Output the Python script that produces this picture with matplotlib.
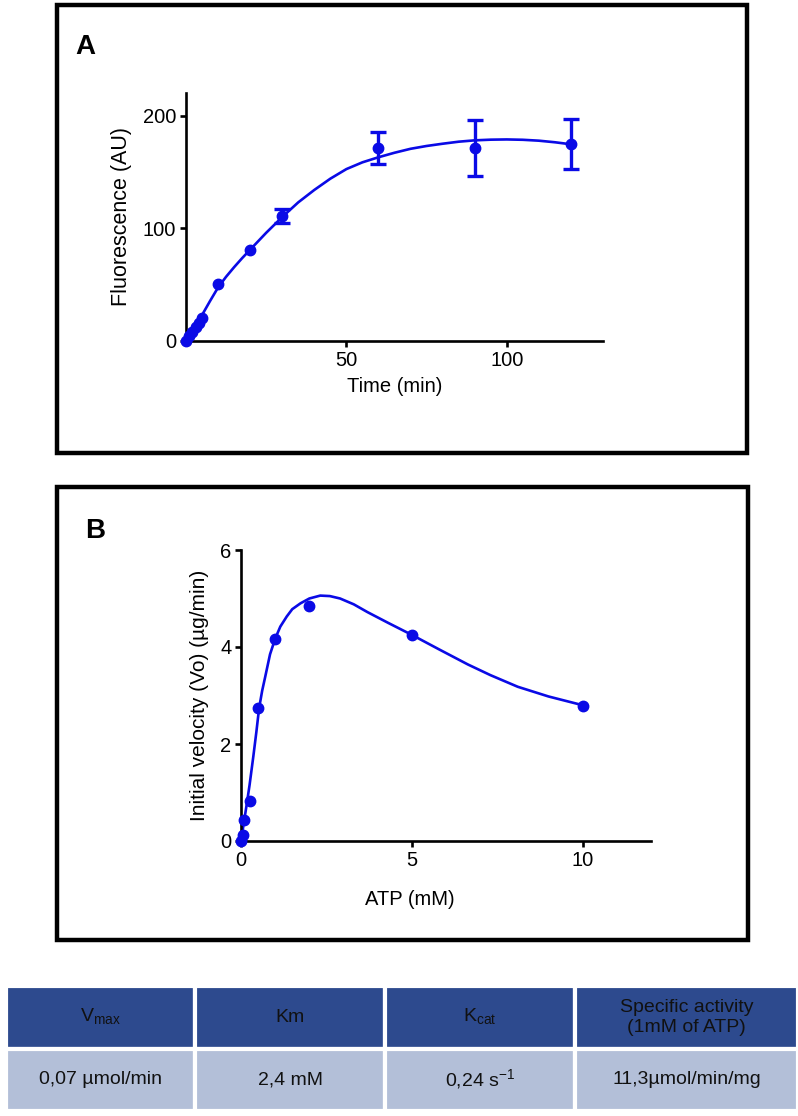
import matplotlib.pyplot as plt
from matplotlib.patches import Rectangle

plt.rcParams['font.family'] = ['Liberation Sans', 'DejaVu Sans']

BLUE = '#0a0ae6'

## Panel A: fluorescence over time (mean +/- error)
time_min = [0, 1, 2, 3, 4, 5, 10, 20, 30, 60, 90, 120]
fluo = [0, 4, 8, 12, 16, 20, 51, 81, 111, 171, 171, 175]
fluo_err = [0, 0, 0, 0, 0, 0, 0, 0, 6, 14, 25, 22]

# fitted curve
fit_t = [0, 2.5, 5, 7.5, 10, 12.5, 15, 17.5, 20, 25, 30, 35, 40, 45, 50, 55, 60, 65, 70, 75, 80,
         85, 90, 95, 100, 105, 110, 115, 120]
fit_f = [0, 11, 23, 35.5, 47.5, 57, 65.5, 73.5, 81, 96, 110, 123, 134, 144, 152.5, 158.5, 163,
         167, 170.5, 173, 175, 176.8, 178, 178.6, 178.8, 178.5, 177.7, 176.3, 174.5]

## Panel B: initial velocity vs ATP
atp = [0, 0.05, 0.1, 0.25, 0.5, 1, 2, 5, 10]
vo = [0.0, 0.12, 0.43, 0.82, 2.74, 4.17, 4.85, 4.24, 2.78]

fit_atp = [0, 0.1, 0.17, 0.25, 0.36, 0.45, 0.53, 0.62, 0.71, 0.85, 1.0, 1.15, 1.34, 1.5, 1.74,
           2.0, 2.32, 2.6, 2.9, 3.3, 3.7, 4.3, 5.0, 5.8, 6.64, 7.3, 8.1, 9.0, 10]
fit_vo = [0, 0.45, 0.77, 1.15, 1.74, 2.25, 2.74, 3.1, 3.39, 3.85, 4.17, 4.42, 4.63, 4.78, 4.9,
          5.0, 5.06, 5.05, 5.0, 4.88, 4.72, 4.5, 4.25, 3.95, 3.64, 3.42, 3.18, 2.98, 2.8]

## Kinetic parameters table
col_labels = [r'V$_{\mathregular{max}}$', 'Km', r'K$_{\mathregular{cat}}$', 'Specific activity\n(1mM of ATP)']
row_values = ['0,07 \u00b5mol/min', '2,4 mM', r'0,24 s$^{\mathregular{-1}}$', '11,3\u00b5mol/min/mg']

W, H = 798, 1116
fig = plt.figure(figsize=(W/100, H/100), dpi=100)

def px_axes(x0, y0, x1, y1):
    # pixel box (top-left origin) -> axes
    return fig.add_axes([x0/W, 1-y1/H, (x1-x0)/W, (y1-y0)/H])

def frame(x0, y0, x1, y1):
    fig.patches.append(Rectangle((x0/W, 1-y1/H), (x1-x0)/W, (y1-y0)/H, transform=fig.transFigure,
                                 fill=False, edgecolor='black', linewidth=3.2, zorder=0))

def style(ax):
    for s in ('top', 'right'):
        ax.spines[s].set_visible(False)
    for s in ('left', 'bottom'):
        ax.spines[s].set_linewidth(1.9)
    ax.tick_params(width=1.9, length=4, labelsize=14.5, pad=3)

frame(57, 5, 747, 453)
frame(57, 487, 748, 940)

# --- A
axA = px_axes(186, 93, 603, 341)
axA.plot(fit_t, fit_f, color=BLUE, lw=1.9, zorder=2)
axA.plot(time_min, fluo, 'o', color=BLUE, ms=7.5, zorder=3, clip_on=False)
has_err = [i for i, e in enumerate(fluo_err) if e > 0]
axA.errorbar([time_min[i] for i in has_err], [fluo[i] for i in has_err],
             yerr=[fluo_err[i] for i in has_err], fmt='none', ecolor=BLUE,
             elinewidth=2.4, capsize=5.5, capthick=2.4, zorder=3)
axA.set_xlim(0, 130)
axA.set_ylim(0, 220)
axA.set_xticks([50, 100])
axA.set_yticks([0, 100, 200])
axA.set_xlabel('Time (min)', fontsize=14.5, labelpad=5)
axA.set_ylabel('Fluorescence (AU)', fontsize=15.5, labelpad=8)
style(axA)
fig.text(75/W, 1-47/H, 'A', fontsize=20, fontweight='bold', va='center', ha='left')

# --- B
axB = px_axes(241, 550, 651, 841)
axB.plot(fit_atp, fit_vo, color=BLUE, lw=1.9, zorder=2)
axB.plot(atp, vo, 'o', color=BLUE, ms=7.5, zorder=3, clip_on=False)
axB.set_xlim(0, 12)
axB.set_ylim(0, 6)
axB.set_xticks([0, 5, 10])
axB.set_yticks([0, 2, 4, 6])
axB.set_xlabel('ATP (mM)', fontsize=14.5)
axB.xaxis.set_label_coords((410-241)/(651-241), -0.17)
axB.set_ylabel('Initial velocity (Vo) (\u00b5g/min)', fontsize=15, labelpad=8)
style(axB)
fig.text(85/W, 1-531/H, 'B', fontsize=20, fontweight='bold', va='center', ha='left')

# --- table
axT = px_axes(6, 986, 798, 1111)
axT.axis('off')
tbl = axT.table(cellText=[row_values], colLabels=col_labels, cellLoc='center',
                bbox=[0, 0, 1, 1], colWidths=[189, 190, 190, 223])
tbl.auto_set_font_size(False)
for (r, c), cell in tbl.get_celld().items():
    cell.set_edgecolor('white')
    cell.set_linewidth(3)
    cell.set_facecolor('#2d4a8e' if r == 0 else '#b3bfd8')
    cell.get_text().set_fontsize(14)
    cell.get_text().set_color('#111111')
    cell.get_text().set_fontstretch('condensed')

fig.savefig('out.png', dpi=100)
